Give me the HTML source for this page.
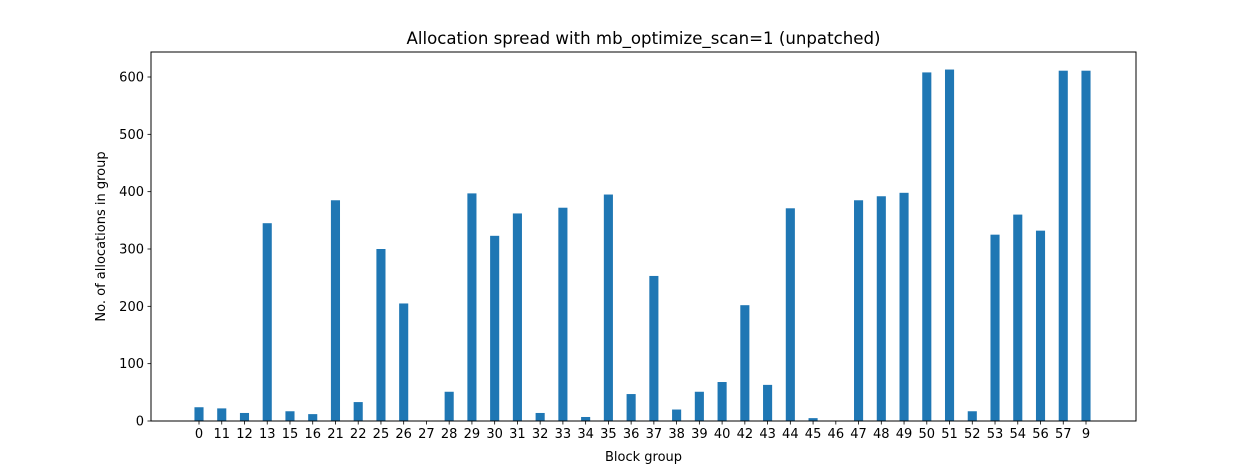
<!DOCTYPE html>
<html><head><meta charset="utf-8"><style>
body{margin:0;background:#fff;font-family:"Liberation Sans","DejaVu Sans",sans-serif;}
svg text{font-family:"DejaVu Sans","Liberation Sans",sans-serif;}
</style></head><body>
<svg id="chart" width="1259" height="465"></svg>
<script>
const categories=["0","11","12","13","15","16","21","22","25","26","27","28","29","30","31","32","33","34","35","36","37","38","39","40","42","43","44","45","46","47","48","49","50","51","52","53","54","56","57","9"];
const values=[24,22,14,345,17,12,385,33,300,205,0,51,397,323,362,14,372,7,395,47,253,20,51,68,202,63,371,5,0,385,392,398,608,613,17,325,360,332,611,611];
const yTicks=[0,100,200,300,400,500,600];
const L=151,R=1136,T=52,B=421;
const NS="http://www.w3.org/2000/svg";
const svg=document.getElementById('chart');
const step=(1086-199)/(categories.length-1);
function xPos(i){return 199+i*step;}
function yPos(v){return B-v*(344/600);}
function el(tag,attrs,parent){const e=document.createElementNS(NS,tag);for(const k in attrs)e.setAttribute(k,attrs[k]);(parent||svg).appendChild(e);return e;}
const bw=step*0.4;
categories.forEach((c,i)=>{
  const r=el('rect',{x:xPos(i)-bw/2,y:yPos(values[i]),width:bw,height:B-yPos(values[i]),fill:'#1f77b4'});
  
  
  el('line',{x1:xPos(i),x2:xPos(i),y1:B,y2:B+3.5,stroke:'#000','stroke-width':0.8});
  const t=el('text',{x:xPos(i),y:B+17,'text-anchor':'middle','font-size':13});
  t.textContent=c;
  
  
});
yTicks.forEach(v=>{
  el('line',{x1:L-3.5,x2:L,y1:yPos(v),y2:yPos(v),stroke:'#000','stroke-width':0.8});
  const t=el('text',{x:L-7,y:yPos(v)+4.5,'text-anchor':'end','font-size':13});
  t.textContent=v;
  
  
});
const f=el('rect',{x:L,y:T,width:R-L,height:B-T,fill:'none',stroke:'#000','stroke-width':1});


const ti=el('text',{x:(L+R)/2,y:44,'text-anchor':'middle','font-size':16.6});
ti.textContent='Allocation spread with mb_optimize_scan=1 (unpatched)';


const xl=el('text',{x:(L+R)/2,y:461,'text-anchor':'middle','font-size':13});
xl.textContent='Block group';


const yl=el('text',{x:0,y:0,'text-anchor':'middle','font-size':13,transform:'translate(105,'+((T+B)/2)+') rotate(-90)'});
yl.textContent='No. of allocations in group';


</script>
</body></html>
